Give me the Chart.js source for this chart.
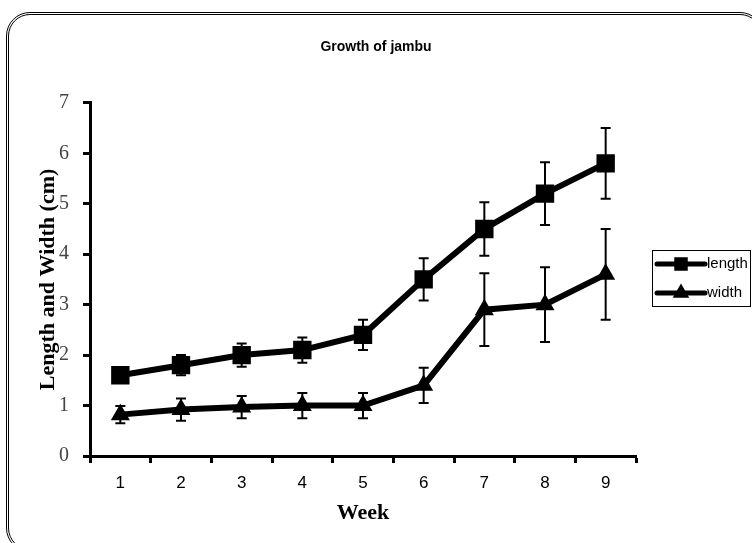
<!DOCTYPE html>
<html>
<head>
<meta charset="utf-8">
<script src="https://cdn.jsdelivr.net/npm/chart.js@4/dist/chart.umd.min.js"></script>
<style>
html, body { margin: 0; padding: 0; background: #fff; overflow: hidden; }
#wrap { position: relative; width: 752px; height: 543px; }
#frame { position: absolute; left: 6px; top: 12px; width: 752px; height: 534px; border: 3px double #000; border-radius: 24px; pointer-events: none; }
</style>
</head>
<body>
<div id="wrap">
  <canvas id="myChart" width="752" height="543"></canvas>
  <div id="frame"></div>
</div>
<script>
// data
const weeks = ['1', '2', '3', '4', '5', '6', '7', '8', '9'];
const lengthVals = [1.6, 1.8, 2.0, 2.1, 2.4, 3.5, 4.5, 5.2, 5.8];
const lengthErr  = [0.12, 0.2, 0.23, 0.25, 0.3, 0.42, 0.53, 0.62, 0.7];
const widthVals  = [0.82, 0.92, 0.97, 1.0, 1.0, 1.4, 2.9, 3.0, 3.6];
const widthErr   = [0.17, 0.22, 0.22, 0.25, 0.25, 0.35, 0.72, 0.74, 0.9];

const serif = '"Liberation Serif", "Times New Roman", serif';
const sans = '"Liberation Sans", Arial, sans-serif';

// error bars drawn through the scales
const errorBars = {
  id: 'errorBars',
  afterDatasetsDraw(chart) {
    const ctx = chart.ctx, xs = chart.scales.x, ys = chart.scales.y;
    ctx.save();
    ctx.strokeStyle = '#000';
    ctx.lineWidth = 2;
    chart.data.datasets.forEach(ds => {
      ds.data.forEach((v, i) => {
        const px = xs.getPixelForValue(i);
        const top = ys.getPixelForValue(v + ds.errors[i]);
        const bot = ys.getPixelForValue(v - ds.errors[i]);
        ctx.beginPath();
        ctx.moveTo(px, top); ctx.lineTo(px, bot);
        ctx.moveTo(px - 5, top); ctx.lineTo(px + 5, top);
        ctx.moveTo(px - 5, bot); ctx.lineTo(px + 5, bot);
        ctx.stroke();
      });
    });
    ctx.restore();
  }
};

// boxed legend on the right, line + marker samples
const sideLegend = {
  id: 'sideLegend',
  afterDraw(chart) {
    const ctx = chart.ctx;
    ctx.save();
    ctx.strokeStyle = '#000';
    ctx.lineWidth = 1;
    ctx.strokeRect(652.5, 250.5, 98, 56);
    ctx.font = '15px ' + sans;
    ctx.textBaseline = 'middle';
    chart.data.datasets.forEach((ds, i) => {
      const y = 264 + i * 29;
      ctx.beginPath();
      ctx.lineWidth = 5;
      ctx.lineCap = 'round';
      ctx.moveTo(657, y); ctx.lineTo(705, y);
      ctx.stroke();
      ctx.fillStyle = '#000';
      Chart.helpers.drawPoint(ctx, { pointStyle: ds.pointStyle, radius: ds.pointStyle === 'rect' ? 6 : 4.5, rotation: 0, borderWidth: 1 }, 681, y);
      ctx.fillText(ds.label, 707, y);
    });
    ctx.restore();
  }
};

new Chart(document.getElementById('myChart').getContext('2d'), {
  type: 'line',
  data: {
    labels: weeks,
    datasets: [
      { label: 'length', data: lengthVals, errors: lengthErr, borderColor: '#000', backgroundColor: '#000',
        borderWidth: 6, pointStyle: 'rect', pointRadius: 13, pointBorderWidth: 0, tension: 0 },
      { label: 'width', data: widthVals, errors: widthErr, borderColor: '#000', backgroundColor: '#000',
        borderWidth: 6, pointStyle: 'triangle', pointRadius: 11, pointBorderWidth: 0, tension: 0 }
    ]
  },
  options: {
    responsive: false,
    devicePixelRatio: 1,
    animation: false,
    layout: { padding: 0 },
    plugins: {
      legend: { display: false },
      tooltip: { enabled: false },
      title: {
        display: true, text: 'Growth of jambu', color: '#000',
        font: { family: sans, size: 14, weight: 'bold' },
        padding: { top: 39, bottom: 47 }
      }
    },
    scales: {
      x: {
        type: 'category', offset: true,
        grid: { offset: true, drawOnChartArea: false, tickLength: 7, tickWidth: 3, tickColor: '#000' },
        border: { color: '#000', width: 3 },
        ticks: { color: '#000', font: { family: sans, size: 17 }, padding: 10, maxRotation: 0 },
        title: { display: true, text: 'Week', color: '#000',
          font: { family: serif, size: 22, weight: 'bold' },
          padding: { top: 2, bottom: 16 } },
        afterFit(s) { s.height = 87; }
      },
      y: {
        min: 0, max: 7,
        grid: { drawOnChartArea: false, tickLength: 7, tickWidth: 3, tickColor: '#000' },
        border: { color: '#000', width: 3 },
        ticks: { stepSize: 1, color: '#444', font: { family: serif, size: 20 }, padding: 14 },
        title: { display: true, text: 'Length and Width (cm)', color: '#000',
          font: { family: serif, size: 22, weight: 'bold' },
          padding: { top: 35, bottom: 0 } },
        afterFit(s) { s.width = 90; }
      },
      // empty right-hand room for the legend, keeps the title centred on the page
      room: {
        position: 'right', type: 'linear',
        grid: { display: false }, border: { display: false },
        ticks: { display: false },
        afterFit(s) { s.width = 116; }
      }
    }
  },
  plugins: [errorBars, sideLegend]
});
</script>
</body>
</html>
